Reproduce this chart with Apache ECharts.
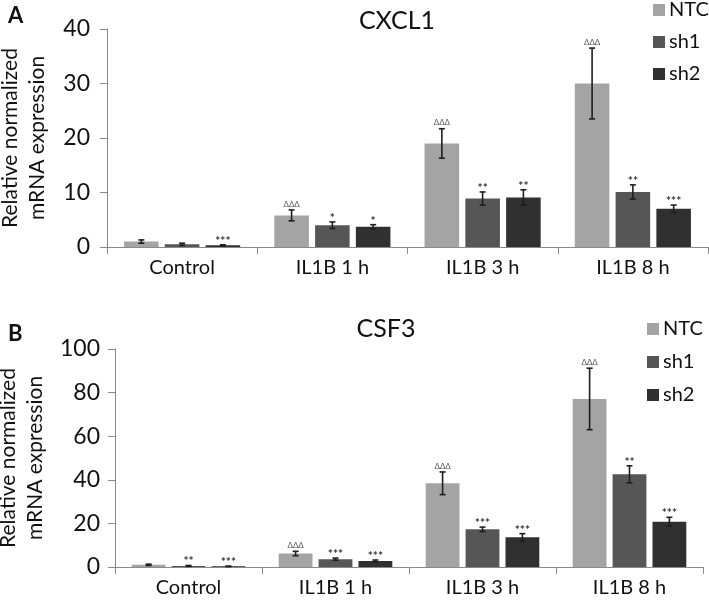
<!DOCTYPE html>
<html><head><meta charset="utf-8">
<script src="https://cdn.jsdelivr.net/npm/echarts@6/dist/echarts.min.js"></script>
<style>html,body{margin:0;padding:0;background:#fff}#c{width:709px;height:608px}</style>
</head><body><div id="c"></div>
<script>
const categories = ['Control', 'IL1B 1 h', 'IL1B 3 h', 'IL1B 8 h'];
const seriesNames = ['NTC', 'sh1', 'sh2'];

// Panel A: CXCL1
const cxcl1NTC = [1.0, 5.8, 19.0, 30.0];
const cxcl1NTCErr = [0.3, 1.0, 2.7, 6.5];
const cxcl1Sh1 = [0.5, 4.0, 8.9, 10.1];
const cxcl1Sh1Err = [0.2, 0.6, 1.2, 1.3];
const cxcl1Sh2 = [0.3, 3.7, 9.1, 7.0];
const cxcl1Sh2Err = [0.1, 0.4, 1.4, 0.7];
const cxcl1NTCSig = ['', 'ΔΔΔ', 'ΔΔΔ', 'ΔΔΔ'];
const cxcl1Sh1Sig = ['', '*', '**', '**'];
const cxcl1Sh2Sig = ['***', '*', '**', '***'];

// Panel B: CSF3
const csf3NTC = [1.0, 6.2, 38.4, 77.1];
const csf3NTCErr = [0.3, 1.0, 5.2, 14.1];
const csf3Sh1 = [0.5, 3.6, 17.3, 42.5];
const csf3Sh1Err = [0.2, 0.5, 1.0, 3.9];
const csf3Sh2 = [0.3, 2.8, 13.6, 20.8];
const csf3Sh2Err = [0.1, 0.4, 1.7, 2.0];
const csf3NTCSig = ['', 'ΔΔΔ', 'ΔΔΔ', 'ΔΔΔ'];
const csf3Sh1Sig = ['**', '***', '***', '**'];
const csf3Sh2Sig = ['***', '***', '***', '***'];

const colors = ['#a4a4a4', '#565656', '#303030'];
const FONT = 'Lato';

function errSeries(name, axisIdx, slot, vals, errs, sigs) {
  return {
    type: 'custom', name: name + ' err', xAxisIndex: axisIdx, yAxisIndex: axisIdx, z: 5,
    silent: true,
    data: vals.map((v, i) => [i, v, errs[i]]),
    renderItem: function (params, api) {
      const ci = api.value(0), v = api.value(1), e = api.value(2);
      const catW = api.size([1, 0])[0];
      const barW = catW * 0.23;
      const off = (slot - 1) * barW * 1.18;
      const top = api.coord([ci, v + e]);
      const bot = api.coord([ci, Math.max(v - e, 0)]);
      const x = top[0] + off;
      const st = { stroke: '#1e1e1e', lineWidth: 1.6 };
      const children = [
        { type: 'line', shape: { x1: x, y1: top[1], x2: x, y2: bot[1] }, style: st },
        { type: 'line', shape: { x1: x - 3, y1: top[1], x2: x + 3, y2: top[1] }, style: st },
        { type: 'line', shape: { x1: x - 3, y1: bot[1], x2: x + 3, y2: bot[1] }, style: st }
      ];
      const s = sigs[params.dataIndex];
      if (s) {
        const isDelta = s.indexOf('Δ') >= 0;
        children.push({
          type: 'text',
          style: {
            x: x, y: top[1] - (isDelta ? 2 : -2), text: s, textAlign: 'center', textVerticalAlign: 'bottom',
            fontSize: isDelta ? 8 : 12, fontFamily: FONT, fontWeight: isDelta ? 'normal' : 'bold',
            fill: isDelta ? '#555' : '#333'
          }
        });
      }
      return { type: 'group', children: children };
    }
  };
}

function barSeries(name, axisIdx, slot, vals) {
  return {
    type: 'bar', name: name, xAxisIndex: axisIdx, yAxisIndex: axisIdx,
    data: vals, barWidth: '23%', barGap: '18%',
    itemStyle: { color: colors[slot] }
  };
}

const axisLineStyle = { lineStyle: { color: '#8a8a8a', width: 1 } };

function xAxis(gridIndex) {
  return {
    type: 'category', gridIndex: gridIndex, data: categories,
    axisLine: axisLineStyle,
    axisTick: { show: true, length: 7, lineStyle: { color: '#8a8a8a' } },
    axisLabel: { fontFamily: FONT, fontSize: 20, color: '#111', margin: 11 }
  };
}

function yAxis(gridIndex, max, interval, margin, nameGap) {
  return {
    type: 'value', gridIndex: gridIndex, min: 0, max: max, interval: interval,
    name: 'Relative normalized\nmRNA expression', nameLocation: 'middle', nameGap: nameGap,
    nameTextStyle: { fontFamily: FONT, fontSize: 21, color: '#111', lineHeight: 27 },
    axisLine: { show: true, lineStyle: { color: '#8a8a8a', width: 1 } },
    axisTick: { show: true, length: 7, lineStyle: { color: '#8a8a8a' } },
    splitLine: { show: false },
    axisLabel: { fontFamily: FONT, fontSize: 23, color: '#111', margin: margin }
  };
}

const chart = echarts.init(document.getElementById('c'), null, { renderer: 'canvas' });
chart.setOption({
  animation: false,
  backgroundColor: '#fff',
  title: [
    { text: 'CXCL1', left: 392, top: 3, textAlign: 'center', textStyle: { fontFamily: FONT, fontSize: 25, fontWeight: 'normal', color: '#111' } },
    { text: 'CSF3', left: 381, top: 311, textAlign: 'center', textStyle: { fontFamily: FONT, fontSize: 25, fontWeight: 'normal', color: '#111' } },
    { text: 'A', left: 3, top: 0, textStyle: { fontFamily: FONT, fontSize: 22, fontWeight: 'bold', color: '#111' } },
    { text: 'B', left: 3, top: 318, textStyle: { fontFamily: FONT, fontSize: 22, fontWeight: 'bold', color: '#111' } }
  ],
  legend: [
    { data: seriesNames, orient: 'vertical', left: 653, top: 0, padding: 0, itemWidth: 12, itemHeight: 12, itemGap: 12,
      icon: 'rect', textStyle: { fontFamily: FONT, fontSize: 20, color: '#111', padding: [0, 0, 0, -1] } },
    { data: seriesNames, orient: 'vertical', left: 647, top: 319, padding: 0, itemWidth: 12, itemHeight: 12, itemGap: 13,
      icon: 'rect', textStyle: { fontFamily: FONT, fontSize: 20, color: '#111', padding: [0, 0, 0, -1] } }
  ],
  grid: [
    { left: 107, right: 1, top: 29, bottom: 361, containLabel: false, outerBoundsMode: 'none' },
    { left: 115, right: 6, top: 349, bottom: 41, containLabel: false, outerBoundsMode: 'none' }
  ],
  xAxis: [xAxis(0), xAxis(1)],
  yAxis: [yAxis(0, 40, 10, 17, 56), yAxis(1, 100, 20, 15, 63)],
  series: [
    barSeries('NTC', 0, 0, cxcl1NTC),
    barSeries('sh1', 0, 1, cxcl1Sh1),
    barSeries('sh2', 0, 2, cxcl1Sh2),
    barSeries('NTC', 1, 0, csf3NTC),
    barSeries('sh1', 1, 1, csf3Sh1),
    barSeries('sh2', 1, 2, csf3Sh2),
    errSeries('NTC', 0, 0, cxcl1NTC, cxcl1NTCErr, cxcl1NTCSig),
    errSeries('sh1', 0, 1, cxcl1Sh1, cxcl1Sh1Err, cxcl1Sh1Sig),
    errSeries('sh2', 0, 2, cxcl1Sh2, cxcl1Sh2Err, cxcl1Sh2Sig),
    errSeries('NTC', 1, 0, csf3NTC, csf3NTCErr, csf3NTCSig),
    errSeries('sh1', 1, 1, csf3Sh1, csf3Sh1Err, csf3Sh1Sig),
    errSeries('sh2', 1, 2, csf3Sh2, csf3Sh2Err, csf3Sh2Sig)
  ]
});
</script>
</body></html>
